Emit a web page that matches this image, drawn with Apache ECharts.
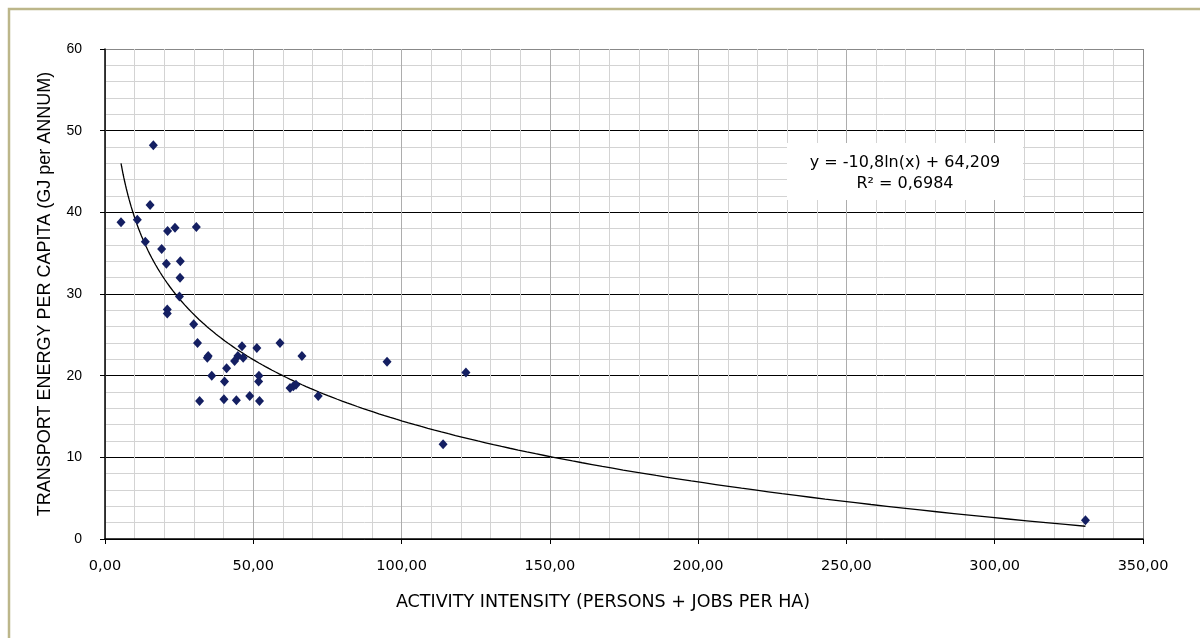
<!DOCTYPE html>
<html><head><meta charset="utf-8">
<script src="https://cdn.jsdelivr.net/npm/echarts@6/dist/echarts.min.js"></script>
<style>html,body{margin:0;padding:0;background:#fff}#chart{width:1200px;height:638px}</style>
</head><body><div id="chart"></div>
<script>
// Activity intensity (persons + jobs per ha)
const activityIntensity = [5.4, 10.9, 13.6, 15.2, 16.3, 19.1, 20.7, 21.1, 21.0, 21.0,
  23.6, 25.4, 25.3, 25.1, 30.8, 29.9, 31.2, 31.9, 34.5, 34.8,
  36.0, 40.1, 40.3, 41.0, 43.7, 44.8, 44.3, 46.2, 46.6, 48.8,
  51.2, 51.9, 51.8, 52.1, 59.0, 62.4, 63.5, 64.4, 66.4, 71.9,
  95.1, 114.0, 121.7, 330.6];
// Transport energy per capita (GJ per annum)
const transportEnergy = [38.8, 39.1, 36.4, 40.9, 48.2, 35.5, 33.7, 37.7, 28.1, 27.6,
  38.1, 34.0, 32.0, 29.7, 38.2, 26.3, 24.0, 16.9, 22.2, 22.4,
  20.0, 17.1, 19.3, 20.9, 21.8, 22.4, 17.0, 23.6, 22.2, 17.5,
  23.4, 20.0, 19.3, 16.9, 24.0, 18.5, 18.7, 18.9, 22.4, 17.5,
  21.7, 11.6, 20.4, 2.3];
const xTickLabels = ['0,00', '50,00', '100,00', '150,00', '200,00', '250,00', '300,00', '350,00'];
const yTickLabels = ['0', '10', '20', '30', '40', '50', '60'];
// Logarithmic trendline as printed on the chart
const trendSlope = -10.8;
const trendIntercept = 64.209;
const equationLine = 'y = -10,8ln(x) + 64,209';
const r2Line = 'R² = 0,6984';
const xTitle = 'ACTIVITY INTENSITY (PERSONS + JOBS PER HA)';
const yTitle = 'TRANSPORT ENERGY PER CAPITA (GJ per ANNUM)';

const points = activityIntensity.map((x, i) => [x, transportEnergy[i]]);
const xMin = Math.min(...activityIntensity), xMax = Math.max(...activityIntensity);
const trend = [];
const nSamp = 200;
for (let i = 0; i <= nSamp; i++) {
  const x = xMin * Math.pow(xMax / xMin, i / nSamp);
  trend.push([x, trendSlope * Math.log(x) + trendIntercept]);
}

const chart = echarts.init(document.getElementById('chart'), null, {renderer: 'canvas'});
chart.setOption({
  animation: false,
  backgroundColor: '#ffffff',
  grid: {left: 105, right: 57, top: 49, bottom: 99, containLabel: false, outerBoundsMode: 'none'},
  xAxis: {
    type: 'value', min: 0, max: 350, interval: 50,
    name: xTitle, nameLocation: 'middle', nameGap: 54,
    nameTextStyle: {fontFamily: 'DejaVu Sans', fontSize: 17.5, color: '#000', padding: [0, 42, 0, 0]},
    axisLine: {show: true, onZero: false, lineStyle: {color: '#000', width: 1.5}},
    axisTick: {show: true, length: 5, lineStyle: {color: '#000'}},
    axisLabel: {margin: 20, fontFamily: 'DejaVu Sans', fontSize: 14.5, color: '#000',
      formatter: v => xTickLabels[Math.round(v / 50)]},
    splitLine: {show: true, lineStyle: {color: ['#adadad','#adadad','#adadad','#adadad','#adadad','#adadad','#adadad','#888888'], width: 1}},
    minorTick: {show: false, splitNumber: 5},
    minorSplitLine: {show: true, lineStyle: {color: '#d3d3d3', width: 1}}
  },
  yAxis: {
    type: 'value', min: 0, max: 60, interval: 10,
    name: yTitle, nameLocation: 'middle', nameGap: 51, nameRotate: 90,
    nameTextStyle: {fontFamily: 'Liberation Sans', fontSize: 18, color: '#000'},
    axisLine: {show: true, onZero: false, lineStyle: {color: '#000', width: 1.5}},
    axisTick: {show: true, length: 5, lineStyle: {color: '#000'}},
    axisLabel: {margin: 23, fontFamily: 'Liberation Sans', fontSize: 14, color: '#000',
      formatter: v => yTickLabels[Math.round(v / 10)]},
    splitLine: {show: true, lineStyle: {color: ['#000','#000','#000','#000','#000','#000','#888888'], width: 1}},
    minorTick: {show: false, splitNumber: 5},
    minorSplitLine: {show: true, lineStyle: {color: '#d3d3d3', width: 1}}
  },
  series: [
    {
      type: 'line', data: trend, showSymbol: false, symbol: 'none',
      lineStyle: {color: '#000', width: 1.3}, z: 2, silent: true
    },
    {
      type: 'scatter', data: points, symbol: 'diamond', symbolSize: [9, 10],
      itemStyle: {color: '#141f62', opacity: 1}, z: 3
    }
  ],
  graphic: [
    {type: 'rect', left: 6.5, top: 6.5, z: 0, silent: true,
      shape: {width: 1200, height: 700},
      style: {fill: 'none', stroke: '#bcb68a', lineWidth: 2.5}},
    {type: 'rect', left: 787, top: 143, z: 10,
      shape: {width: 236, height: 57},
      style: {fill: '#ffffff'}},
    {type: 'text', x: 905, y: 163, z: 11,
      style: {text: equationLine, fontFamily: 'DejaVu Sans', fontSize: 16, fill: '#000', align: 'center', verticalAlign: 'middle'}},
    {type: 'text', x: 905, y: 184, z: 11,
      style: {text: r2Line, fontFamily: 'DejaVu Sans', fontSize: 16, fill: '#000', align: 'center', verticalAlign: 'middle'}}
  ]
});
</script>
</body></html>
